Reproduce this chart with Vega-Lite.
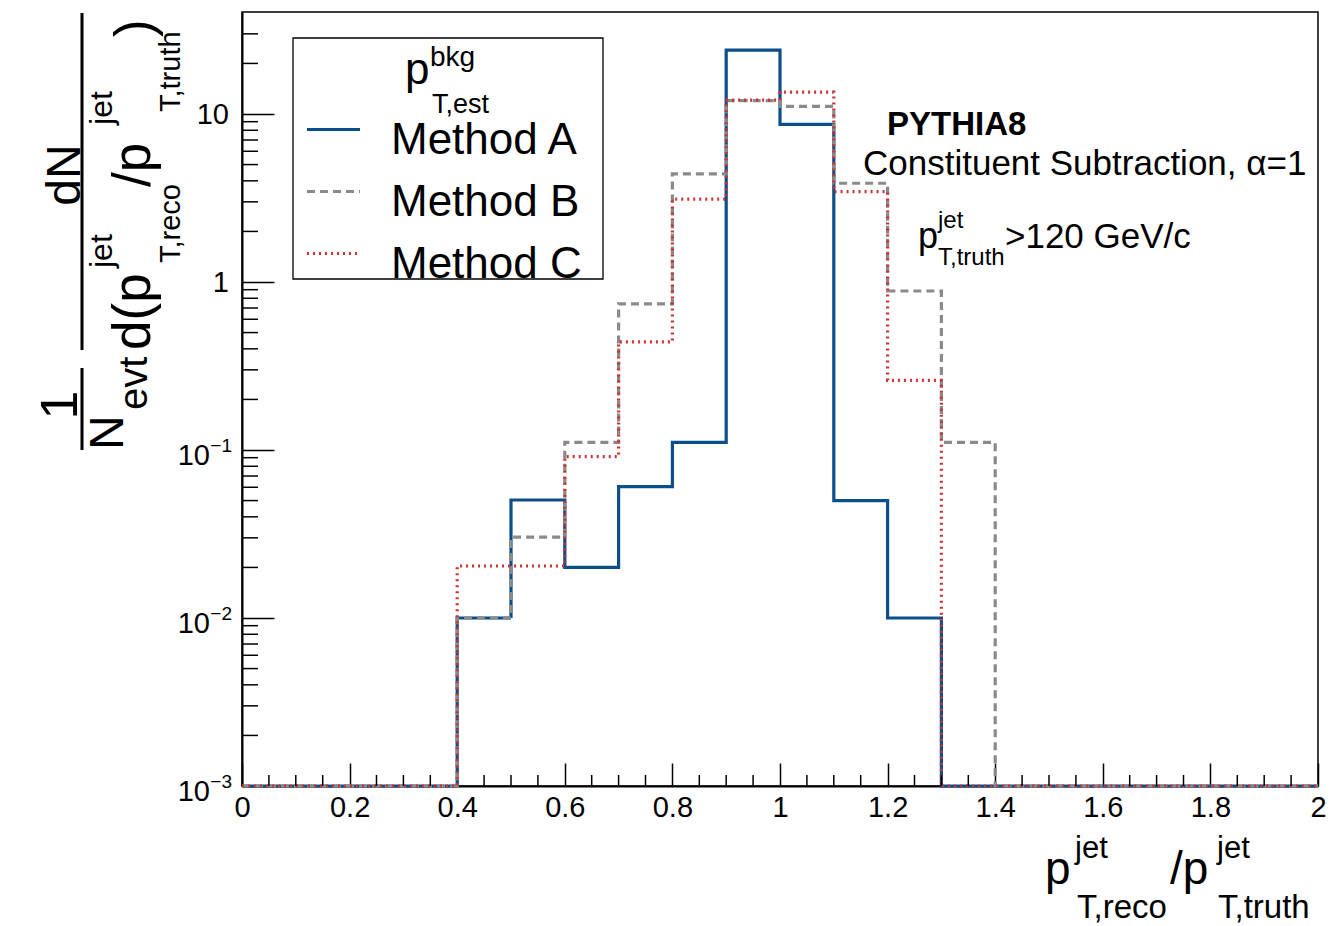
{
  "$schema": "https://vega.github.io/schema/vega-lite/v6.json",
  "width": 1076,
  "height": 774,
  "autosize": {"type": "none"},
  "padding": {"left": 242, "top": 12, "right": 13, "bottom": 140},
  "background": "white",
  "config": {
    "view": {"stroke": "black", "strokeWidth": 1.5},
    "font": "Liberation Sans"
  },
  "datasets": {
    "hist": [
      {"method": "Method A", "x": 0, "value": 0.001},
      {"method": "Method A", "x": 0.1, "value": 0.001},
      {"method": "Method A", "x": 0.2, "value": 0.001},
      {"method": "Method A", "x": 0.3, "value": 0.001},
      {"method": "Method A", "x": 0.4, "value": 0.01},
      {"method": "Method A", "x": 0.5, "value": 0.0504},
      {"method": "Method A", "x": 0.6, "value": 0.02},
      {"method": "Method A", "x": 0.7, "value": 0.0605},
      {"method": "Method A", "x": 0.8, "value": 0.111},
      {"method": "Method A", "x": 0.9, "value": 24.0},
      {"method": "Method A", "x": 1.0, "value": 8.68},
      {"method": "Method A", "x": 1.1, "value": 0.05},
      {"method": "Method A", "x": 1.2, "value": 0.01},
      {"method": "Method A", "x": 1.3, "value": 0.001},
      {"method": "Method A", "x": 1.4, "value": 0.001},
      {"method": "Method A", "x": 1.5, "value": 0.001},
      {"method": "Method A", "x": 1.6, "value": 0.001},
      {"method": "Method A", "x": 1.7, "value": 0.001},
      {"method": "Method A", "x": 1.8, "value": 0.001},
      {"method": "Method A", "x": 1.9, "value": 0.001},
      {"method": "Method A", "x": 2.0, "value": 0.001},
      {"method": "Method B", "x": 0, "value": 0.001},
      {"method": "Method B", "x": 0.1, "value": 0.001},
      {"method": "Method B", "x": 0.2, "value": 0.001},
      {"method": "Method B", "x": 0.3, "value": 0.001},
      {"method": "Method B", "x": 0.4, "value": 0.01},
      {"method": "Method B", "x": 0.5, "value": 0.0303},
      {"method": "Method B", "x": 0.6, "value": 0.111},
      {"method": "Method B", "x": 0.7, "value": 0.74},
      {"method": "Method B", "x": 0.8, "value": 4.4},
      {"method": "Method B", "x": 0.9, "value": 12.0},
      {"method": "Method B", "x": 1.0, "value": 11.1},
      {"method": "Method B", "x": 1.1, "value": 3.87},
      {"method": "Method B", "x": 1.2, "value": 0.884},
      {"method": "Method B", "x": 1.3, "value": 0.111},
      {"method": "Method B", "x": 1.4, "value": 0.001},
      {"method": "Method B", "x": 1.5, "value": 0.001},
      {"method": "Method B", "x": 1.6, "value": 0.001},
      {"method": "Method B", "x": 1.7, "value": 0.001},
      {"method": "Method B", "x": 1.8, "value": 0.001},
      {"method": "Method B", "x": 1.9, "value": 0.001},
      {"method": "Method B", "x": 2.0, "value": 0.001},
      {"method": "Method C", "x": 0, "value": 0.001},
      {"method": "Method C", "x": 0.1, "value": 0.001},
      {"method": "Method C", "x": 0.2, "value": 0.001},
      {"method": "Method C", "x": 0.3, "value": 0.001},
      {"method": "Method C", "x": 0.4, "value": 0.0204},
      {"method": "Method C", "x": 0.5, "value": 0.0204},
      {"method": "Method C", "x": 0.6, "value": 0.0912},
      {"method": "Method C", "x": 0.7, "value": 0.44},
      {"method": "Method C", "x": 0.8, "value": 3.11},
      {"method": "Method C", "x": 0.9, "value": 12.1},
      {"method": "Method C", "x": 1.0, "value": 13.5},
      {"method": "Method C", "x": 1.1, "value": 3.45},
      {"method": "Method C", "x": 1.2, "value": 0.26},
      {"method": "Method C", "x": 1.3, "value": 0.001},
      {"method": "Method C", "x": 1.4, "value": 0.001},
      {"method": "Method C", "x": 1.5, "value": 0.001},
      {"method": "Method C", "x": 1.6, "value": 0.001},
      {"method": "Method C", "x": 1.7, "value": 0.001},
      {"method": "Method C", "x": 1.8, "value": 0.001},
      {"method": "Method C", "x": 1.9, "value": 0.001},
      {"method": "Method C", "x": 2.0, "value": 0.001}
    ],
    "xminor": [
      {"t": 0.05}, {"t": 0.1}, {"t": 0.15}, {"t": 0.25}, {"t": 0.3}, {"t": 0.35},
      {"t": 0.45}, {"t": 0.5}, {"t": 0.55}, {"t": 0.65}, {"t": 0.7}, {"t": 0.75},
      {"t": 0.85}, {"t": 0.9}, {"t": 0.95}, {"t": 1.05}, {"t": 1.1}, {"t": 1.15},
      {"t": 1.25}, {"t": 1.3}, {"t": 1.35}, {"t": 1.45}, {"t": 1.5}, {"t": 1.55},
      {"t": 1.65}, {"t": 1.7}, {"t": 1.75}, {"t": 1.85}, {"t": 1.9}, {"t": 1.95}
    ],
    "yminor": [
      {"v": 0.002}, {"v": 0.003}, {"v": 0.004}, {"v": 0.005}, {"v": 0.006}, {"v": 0.007}, {"v": 0.008}, {"v": 0.009},
      {"v": 0.02}, {"v": 0.03}, {"v": 0.04}, {"v": 0.05}, {"v": 0.06}, {"v": 0.07}, {"v": 0.08}, {"v": 0.09},
      {"v": 0.2}, {"v": 0.3}, {"v": 0.4}, {"v": 0.5}, {"v": 0.6}, {"v": 0.7}, {"v": 0.8}, {"v": 0.9},
      {"v": 2}, {"v": 3}, {"v": 4}, {"v": 5}, {"v": 6}, {"v": 7}, {"v": 8}, {"v": 9},
      {"v": 20}, {"v": 30}
    ],
    "ylab": [
      {"v": 0.001, "base": "10", "exp": "−3"},
      {"v": 0.01, "base": "10", "exp": "−2"},
      {"v": 0.1, "base": "10", "exp": "−1"},
      {"v": 1, "base": "1", "exp": ""},
      {"v": 10, "base": "10", "exp": ""}
    ],
    "one": [{}]
  },
  "layer": [
    {
      "data": {"name": "one"},
      "mark": {"type": "rect", "filled": false, "stroke": "black", "strokeWidth": 1.3},
      "encoding": {"x": {"datum": 0.0948}, "x2": {"datum": 0.671}, "y": {"datum": 28.34}, "y2": {"datum": 1.042}}
    },
    {
      "data": {"name": "hist"},
      "mark": {"type": "line", "interpolate": "step-after", "strokeWidth": 3.2, "strokeCap": "butt", "strokeJoin": "miter"},
      "encoding": {
        "x": {
          "field": "x", "type": "quantitative",
          "scale": {"domain": [0, 2], "nice": false, "zero": false},
          "axis": {
            "values": [0, 0.2, 0.4, 0.6, 0.8, 1, 1.2, 1.4, 1.6, 1.8, 2],
            "labelExpr": "format(datum.value, '~g')",
            "labelFont": "Liberation Sans", "labelFontSize": 29, "labelColor": "black",
            "labelPadding": 30, "labelFlush": false, "labelOverlap": false,
            "tickSize": -23, "tickColor": "black", "tickWidth": 1.5,
            "domainColor": "black", "domainWidth": 2, "grid": false, "title": null
          }
        },
        "y": {
          "field": "value", "type": "quantitative",
          "scale": {"type": "log", "domain": [0.001, 40.47], "nice": false},
          "axis": {
            "values": [0.001, 0.01, 0.1, 1, 10],
            "labels": false,
            "tickSize": -32, "tickColor": "black", "tickWidth": 1.5,
            "domainColor": "black", "domainWidth": 2, "grid": false, "title": null
          }
        },
        "color": {
          "field": "method", "type": "nominal",
          "scale": {"domain": ["Method A", "Method B", "Method C"], "range": ["#0b4f8a", "#8a8a8a", "#cc3333"]},
          "legend": {
            "orient": "none", "legendX": 63, "legendY": 89,
            "title": null,
            "labelFont": "Liberation Sans", "labelFontSize": 44, "labelColor": "black", "labelLimit": 0,
            "labelOffset": 29,
            "symbolType": "stroke", "symbolSize": 2809, "symbolStrokeWidth": 3.2,
            "rowPadding": -2, "padding": 0,
            "encode": {"labels": {"update": {"dy": {"value": 11}}}}
          }
        },
        "strokeDash": {
          "field": "method", "type": "nominal",
          "scale": {"domain": ["Method A", "Method B", "Method C"], "range": [[1, 0], [8, 5], [2, 4]]},
          "legend": {
            "orient": "none", "legendX": 63, "legendY": 89,
            "title": null,
            "labelFont": "Liberation Sans", "labelFontSize": 44, "labelColor": "black", "labelLimit": 0,
            "labelOffset": 29,
            "symbolType": "stroke", "symbolSize": 2809, "symbolStrokeWidth": 3.2,
            "rowPadding": -2, "padding": 0,
            "encode": {"labels": {"update": {"dy": {"value": 11}}}}
          }
        }
      }
    },
    {
      "data": {"name": "xminor"},
      "mark": {"type": "rule", "color": "black", "strokeWidth": 1.5, "y2Offset": -11},
      "encoding": {
        "x": {"field": "t", "type": "quantitative", "title": null},
        "y": {"datum": 0.001},
        "y2": {"datum": 0.001}
      }
    },
    {
      "data": {"name": "yminor"},
      "mark": {"type": "rule", "color": "black", "strokeWidth": 1.5, "x2Offset": 16},
      "encoding": {
        "y": {"field": "v", "type": "quantitative", "title": null},
        "x": {"datum": 0},
        "x2": {"datum": 0}
      }
    },
    {
      "data": {"name": "ylab"},
      "transform": [{"filter": "datum.exp != ''"}],
      "mark": {"type": "text", "font": "Liberation Sans", "fontSize": 29, "align": "right", "baseline": "alphabetic", "dx": -32, "dy": 15, "color": "black"},
      "encoding": {
        "y": {"field": "v", "type": "quantitative", "title": null},
        "x": {"datum": 0},
        "text": {"field": "base"}
      }
    },
    {
      "data": {"name": "ylab"},
      "transform": [{"filter": "datum.exp != ''"}],
      "mark": {"type": "text", "font": "Liberation Sans", "fontSize": 19, "align": "right", "baseline": "alphabetic", "dx": -10, "dy": 2, "color": "black"},
      "encoding": {
        "y": {"field": "v", "type": "quantitative", "title": null},
        "x": {"datum": 0},
        "text": {"field": "exp"}
      }
    },
    {
      "data": {"name": "ylab"},
      "transform": [{"filter": "datum.exp == ''"}],
      "mark": {"type": "text", "font": "Liberation Sans", "fontSize": 29, "align": "right", "baseline": "alphabetic", "dx": -13, "dy": 10, "color": "black"},
      "encoding": {
        "y": {"field": "v", "type": "quantitative", "title": null},
        "x": {"datum": 0},
        "text": {"field": "base"}
      }
    },
    {
      "data": {"name": "one"},
      "mark": {"type": "text", "text": "p", "font": "Liberation Sans", "fontSize": 44, "align": "left", "baseline": "alphabetic", "color": "black"},
      "encoding": {"x": {"datum": 0.30297}, "y": {"datum": 15.089}}
    },
    {
      "data": {"name": "one"},
      "mark": {"type": "text", "text": "bkg", "font": "Liberation Sans", "fontSize": 28, "align": "left", "baseline": "alphabetic", "color": "black"},
      "encoding": {"x": {"datum": 0.34944}, "y": {"datum": 19.307}}
    },
    {
      "data": {"name": "one"},
      "mark": {"type": "text", "text": "T,est", "font": "Liberation Sans", "fontSize": 27, "align": "left", "baseline": "alphabetic", "color": "black"},
      "encoding": {"x": {"datum": 0.35316}, "y": {"datum": 10.138}}
    },
    {
      "data": {"name": "one"},
      "mark": {"type": "text", "text": "PYTHIA8", "font": "Liberation Sans", "fontWeight": "bold", "fontSize": 33, "align": "left", "baseline": "alphabetic", "color": "black"},
      "encoding": {"x": {"datum": 1.19888}, "y": {"datum": 7.499}}
    },
    {
      "data": {"name": "one"},
      "mark": {"type": "text", "text": "Constituent Subtraction, α=1", "font": "Liberation Sans", "fontSize": 35, "align": "left", "baseline": "alphabetic", "color": "black"},
      "encoding": {"x": {"datum": 1.15428}, "y": {"datum": 4.334}}
    },
    {
      "data": {"name": "one"},
      "mark": {"type": "text", "text": "p", "font": "Liberation Sans", "fontSize": 36, "align": "left", "baseline": "alphabetic", "color": "black"},
      "encoding": {"x": {"datum": 1.25651}, "y": {"datum": 1.5937}}
    },
    {
      "data": {"name": "one"},
      "mark": {"type": "text", "text": "jet", "font": "Liberation Sans", "fontSize": 24, "align": "left", "baseline": "alphabetic", "color": "black"},
      "encoding": {"x": {"datum": 1.29368}, "y": {"datum": 2.096}}
    },
    {
      "data": {"name": "one"},
      "mark": {"type": "text", "text": "T,truth", "font": "Liberation Sans", "fontSize": 24, "align": "left", "baseline": "alphabetic", "color": "black"},
      "encoding": {"x": {"datum": 1.29368}, "y": {"datum": 1.2623}}
    },
    {
      "data": {"name": "one"},
      "mark": {"type": "text", "text": ">120 GeV/c", "font": "Liberation Sans", "fontSize": 35, "align": "left", "baseline": "alphabetic", "color": "black"},
      "encoding": {"x": {"datum": 1.41822}, "y": {"datum": 1.5937}}
    },
    {
      "data": {"name": "one"},
      "mark": {"type": "text", "text": "p", "font": "Liberation Sans", "fontSize": 46, "align": "left", "baseline": "alphabetic", "color": "black"},
      "encoding": {"x": {"datum": 1.49257}, "y": {"datum": 0.00026102}}
    },
    {
      "data": {"name": "one"},
      "mark": {"type": "text", "text": "jet", "font": "Liberation Sans", "fontSize": 31, "align": "left", "baseline": "alphabetic", "color": "black"},
      "encoding": {"x": {"datum": 1.54833}, "y": {"datum": 0.00037275}}
    },
    {
      "data": {"name": "one"},
      "mark": {"type": "text", "text": "T,reco", "font": "Liberation Sans", "fontSize": 33, "align": "left", "baseline": "alphabetic", "color": "black"},
      "encoding": {"x": {"datum": 1.55204}, "y": {"datum": 0.00016379}}
    },
    {
      "data": {"name": "one"},
      "mark": {"type": "text", "text": "/p", "font": "Liberation Sans", "fontSize": 46, "align": "left", "baseline": "alphabetic", "color": "black"},
      "encoding": {"x": {"datum": 1.72491}, "y": {"datum": 0.00026102}}
    },
    {
      "data": {"name": "one"},
      "mark": {"type": "text", "text": "jet", "font": "Liberation Sans", "fontSize": 31, "align": "left", "baseline": "alphabetic", "color": "black"},
      "encoding": {"x": {"datum": 1.81227}, "y": {"datum": 0.00037275}}
    },
    {
      "data": {"name": "one"},
      "mark": {"type": "text", "text": "T,truth", "font": "Liberation Sans", "fontSize": 33, "align": "left", "baseline": "alphabetic", "color": "black"},
      "encoding": {"x": {"datum": 1.81413}, "y": {"datum": 0.00016379}}
    },
    {
      "data": {"name": "one"},
      "mark": {"type": "text", "text": "dN", "font": "Liberation Sans", "fontSize": 48, "angle": 270, "align": "center", "baseline": "alphabetic", "color": "black"},
      "encoding": {"x": {"datum": -0.30112}, "y": {"datum": 4.334}}
    },
    {
      "data": {"name": "one"},
      "mark": {"type": "text", "text": "1", "font": "Liberation Sans", "fontSize": 52, "angle": 270, "align": "center", "baseline": "alphabetic", "color": "black"},
      "encoding": {"x": {"datum": -0.30669}, "y": {"datum": 0.18527}}
    },
    {
      "data": {"name": "one"},
      "mark": {"type": "text", "text": "N", "font": "Liberation Sans", "fontSize": 48, "angle": 270, "align": "left", "baseline": "alphabetic", "color": "black"},
      "encoding": {"x": {"datum": -0.22119}, "y": {"datum": 0.1}}
    },
    {
      "data": {"name": "one"},
      "mark": {"type": "text", "text": "evt", "font": "Liberation Sans", "fontSize": 40, "angle": 270, "align": "left", "baseline": "alphabetic", "color": "black"},
      "encoding": {"x": {"datum": -0.17658}, "y": {"datum": 0.17298}}
    },
    {
      "data": {"name": "one"},
      "mark": {"type": "text", "text": "d(p", "font": "Liberation Sans", "fontSize": 53, "angle": 270, "align": "left", "baseline": "alphabetic", "color": "black"},
      "encoding": {"x": {"datum": -0.171}, "y": {"datum": 0.39381}}
    },
    {
      "data": {"name": "one"},
      "mark": {"type": "text", "text": "jet", "font": "Liberation Sans", "fontSize": 32, "angle": 270, "align": "left", "baseline": "alphabetic", "color": "black"},
      "encoding": {"x": {"datum": -0.24164}, "y": {"datum": 1.2115}}
    },
    {
      "data": {"name": "one"},
      "mark": {"type": "text", "text": "T,reco", "font": "Liberation Sans", "fontSize": 29, "angle": 270, "align": "left", "baseline": "alphabetic", "color": "black"},
      "encoding": {"x": {"datum": -0.11524}, "y": {"datum": 1.2974}}
    },
    {
      "data": {"name": "one"},
      "mark": {"type": "text", "text": "/p", "font": "Liberation Sans", "fontSize": 53, "angle": 270, "align": "left", "baseline": "alphabetic", "color": "black"},
      "encoding": {"x": {"datum": -0.171}, "y": {"datum": 3.6766}}
    },
    {
      "data": {"name": "one"},
      "mark": {"type": "text", "text": "jet", "font": "Liberation Sans", "fontSize": 32, "angle": 270, "align": "left", "baseline": "alphabetic", "color": "black"},
      "encoding": {"x": {"datum": -0.24164}, "y": {"datum": 8.6023}}
    },
    {
      "data": {"name": "one"},
      "mark": {"type": "text", "text": "T,truth", "font": "Liberation Sans", "fontSize": 29, "angle": 270, "align": "left", "baseline": "alphabetic", "color": "black"},
      "encoding": {"x": {"datum": -0.11524}, "y": {"datum": 10.278}}
    },
    {
      "data": {"name": "one"},
      "mark": {"type": "text", "text": ")", "font": "Liberation Sans", "fontSize": 53, "angle": 270, "align": "left", "baseline": "alphabetic", "color": "black"},
      "encoding": {"x": {"datum": -0.16729}, "y": {"datum": 28.73}}
    },
    {
      "data": {"name": "one"},
      "mark": {"type": "rule", "color": "black", "strokeWidth": 3},
      "encoding": {"x": {"datum": -0.2974}, "y": {"datum": 39.92}, "y2": {"datum": 0.39381}}
    },
    {
      "data": {"name": "one"},
      "mark": {"type": "rule", "color": "black", "strokeWidth": 3},
      "encoding": {"x": {"datum": -0.2974}, "y": {"datum": 0.30768}, "y2": {"datum": 0.1}}
    }
  ]
}
